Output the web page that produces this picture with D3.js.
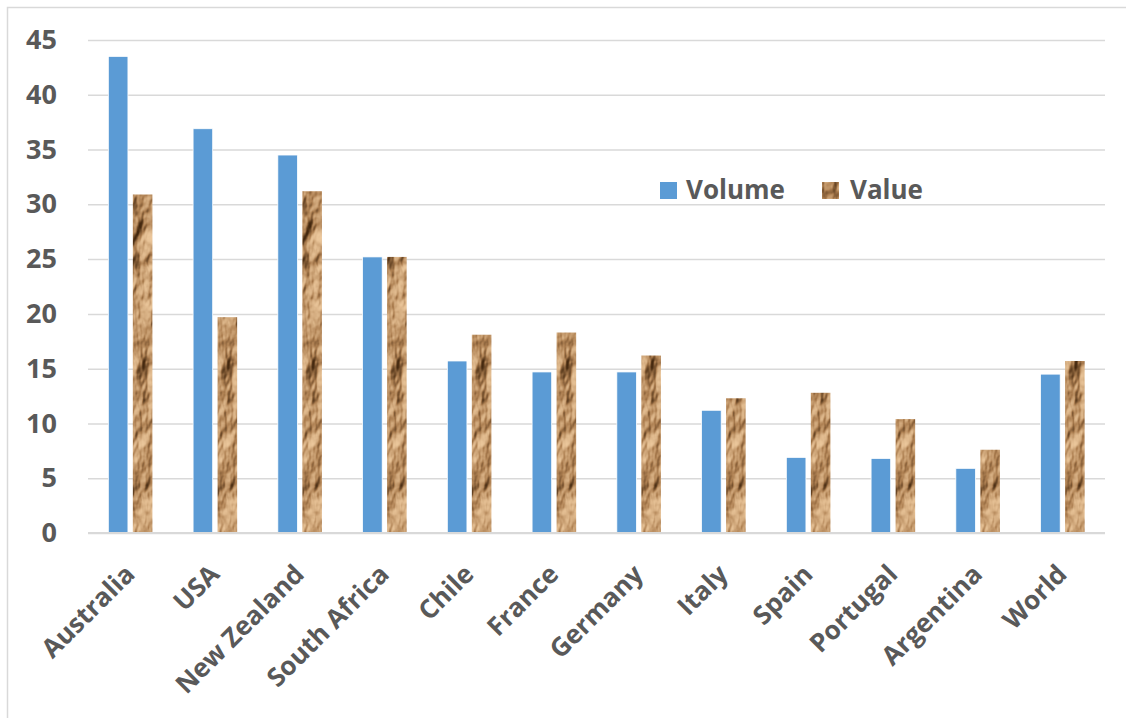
<!DOCTYPE html>
<html>
<head>
<meta charset="utf-8">
<script src="https://cdn.jsdelivr.net/npm/d3@7"></script>
<style>
  body { margin: 0; background: #fff; }
  svg { display: block; font-family: "Open Sans", sans-serif; }
</style>
</head>
<body>
<svg width="1126" height="718"></svg>
<script>
const categories = ["Australia", "USA", "New Zealand", "South Africa", "Chile", "France",
    "Germany", "Italy", "Spain", "Portugal", "Argentina", "World"];
const series = ["Volume", "Value"];
const volume = [43.5, 36.9, 34.5, 25.2, 15.7, 14.7, 14.7, 11.2, 6.9, 6.8, 5.9, 14.5];
const value = [30.9, 19.7, 31.2, 25.2, 18.1, 18.3, 16.2, 12.3, 12.8, 10.4, 7.6, 15.7];
const yTicks = [0, 5, 10, 15, 20, 25, 30, 35, 40, 45];

const svg = d3.select("svg"),
    width = +svg.attr("width"),
    height = +svg.attr("height");

const plotLeft = 88, plotRight = 1105, plotTop = 40, plotBottom = 533;
const textColor = "#595959", blue = "#5B9BD5";

// crumpled paper look for the Value bars
const defs = svg.append("defs");
const f = defs.append("filter")
    .attr("id", "paper")
    .attr("x", 0).attr("y", 0).attr("width", "100%").attr("height", "100%")
    .attr("color-interpolation-filters", "sRGB");
f.append("feTurbulence")
    .attr("type", "fractalNoise")
    .attr("baseFrequency", "0.045 0.02")
    .attr("numOctaves", 4)
    .attr("seed", 11)
    .attr("result", "noise");
f.append("feDiffuseLighting")
    .attr("in", "noise")
    .attr("surfaceScale", 9)
    .attr("diffuseConstant", 1)
    .attr("lighting-color", "#ffffff")
    .attr("result", "lit")
  .append("feDistantLight")
    .attr("azimuth", 235)
    .attr("elevation", 42);
const ct = f.append("feComponentTransfer").attr("in", "lit").attr("result", "tone");
ct.append("feFuncR").attr("type", "table").attr("tableValues", "0.27 0.68 0.94");
ct.append("feFuncG").attr("type", "table").attr("tableValues", "0.16 0.50 0.80");
ct.append("feFuncB").attr("type", "table").attr("tableValues", "0.06 0.32 0.63");
f.append("feComposite")
    .attr("in", "tone")
    .attr("in2", "SourceGraphic")
    .attr("operator", "in");

// chart frame
svg.append("rect")
    .attr("x", 7.5).attr("y", 7.5)
    .attr("width", width + 10).attr("height", height + 10)
    .attr("fill", "none")
    .attr("stroke", "#d9d9d9")
    .attr("stroke-width", 1.5);

const x0 = d3.scaleBand()
    .domain(categories)
    .range([plotLeft, plotRight])
    .paddingInner(0.48)
    .paddingOuter(0.24);

const x1 = d3.scaleBand()
    .domain(series)
    .range([0, x0.bandwidth()])
    .paddingInner(0.2);

const y = d3.scaleLinear()
    .domain([0, 45])
    .range([plotBottom, plotTop]);

// gridlines + y labels
const yAxis = svg.append("g")
    .attr("transform", "translate(" + plotLeft + ",0)")
    .call(d3.axisLeft(y).tickValues(yTicks).tickSize(-(plotRight - plotLeft)).tickPadding(31));
yAxis.select(".domain").remove();
yAxis.selectAll(".tick line")
    .attr("stroke", "#d9d9d9")
    .attr("stroke-width", 1.5);
yAxis.selectAll(".tick text")
    .attr("fill", textColor)
    .attr("font-family", "Open Sans")
    .attr("font-weight", "bold")
    .attr("font-size", 27);

const groups = svg.append("g")
    .selectAll("g")
    .data(categories)
    .enter().append("g")
    .attr("transform", function(d) { return "translate(" + x0(d) + ",0)"; });

groups.append("rect")
    .attr("x", x1("Volume"))
    .attr("y", function(d, i) { return y(volume[i]); })
    .attr("width", x1.bandwidth())
    .attr("height", function(d, i) { return plotBottom - y(volume[i]); })
    .attr("fill", blue)
    .attr("stroke", "#fff")
    .attr("stroke-width", 0.75);

groups.append("rect")
    .attr("x", x1("Value"))
    .attr("y", function(d, i) { return y(value[i]); })
    .attr("width", x1.bandwidth())
    .attr("height", function(d, i) { return plotBottom - y(value[i]); })
    .attr("fill", "#c49a6c")
    .attr("filter", "url(#paper)");

// baseline
svg.append("line")
    .attr("x1", plotLeft).attr("x2", plotRight)
    .attr("y1", plotBottom).attr("y2", plotBottom)
    .attr("stroke", "#d9d9d9")
    .attr("stroke-width", 2);

// category labels, rotated
svg.append("g")
    .selectAll("text")
    .data(categories)
    .enter().append("text")
    .attr("transform", function(d) {
        return "translate(" + (x0(d) + x0.bandwidth() / 2 - 7) + "," + (plotBottom + 30) + ") rotate(-45)";
    })
    .attr("dy", "0.7em")
    .attr("text-anchor", "end")
    .attr("fill", textColor)
    .attr("font-weight", "bold")
    .attr("font-size", 26)
    .text(function(d) { return d; });

// legend
const legend = svg.append("g").attr("transform", "translate(660,182)");
legend.append("rect")
    .attr("width", 17).attr("height", 17)
    .attr("fill", blue);
legend.append("text")
    .attr("x", 26).attr("y", 17)
    .attr("fill", textColor)
    .attr("font-weight", "bold")
    .attr("font-size", 26)
    .text("Volume");
legend.append("rect")
    .attr("x", 162)
    .attr("width", 17).attr("height", 17)
    .attr("fill", "#c49a6c")
    .attr("filter", "url(#paper)");
legend.append("text")
    .attr("x", 190).attr("y", 17)
    .attr("fill", textColor)
    .attr("font-weight", "bold")
    .attr("font-size", 26)
    .text("Value");
</script>
</body>
</html>
